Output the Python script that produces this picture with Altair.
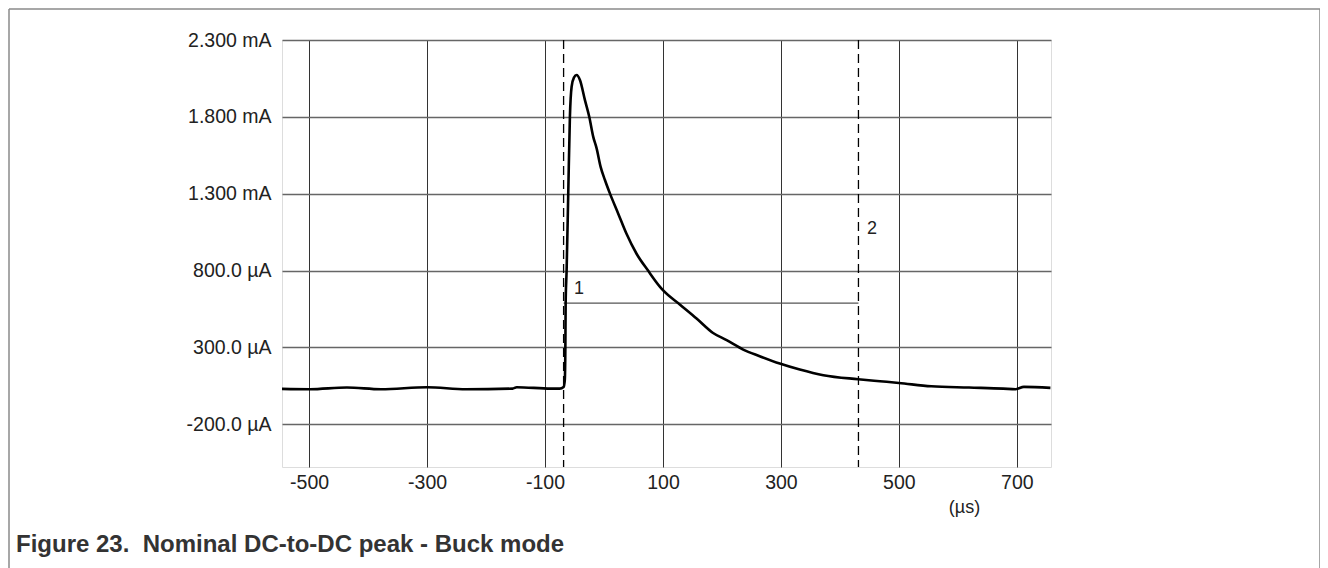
import altair as alt
import pandas as pd

# ---- data ----
time_us = [-546, -499, -436, -378, -300, -234, -155, -148, -90, -75, -68.5, -66.5, -65.5, -65,
           -63.4, -60.6, -57.8, -54.9, -51, -46.4, -40.8, -32.3, -25, -18.2, -12.5, -5.7, 1.6,
           10, 24, 38, 55, 75, 95, 100, 129, 157, 185, 208, 236, 264, 298, 332, 372, 431,
           468, 500, 555, 619, 677, 698, 712, 757]
current_ua = [30, 28, 39, 28, 41, 28, 32, 41, 32, 32, 43, 86, 300, 590,
              797, 1302, 1800, 1996, 2055, 2072, 2040, 1909, 1801, 1670, 1595, 1475, 1389,
              1302, 1172, 1041, 911, 798, 694, 672, 578, 488, 394, 347, 286, 243, 195, 156, 119, 93,
              80, 69, 47, 39, 32, 28, 43, 37]

cursor_times = [-68.5, 431.5]
cursor_labels = ["1", "2"]
cursor_label_x = [-51, 446]
cursor_label_y = [679, 1070]
delta_level = 588

x_ticks = [-500, -300, -100, 100, 300, 500, 700]
y_ticks = [-200, 300, 800, 1300, 1800, 2300]
y_tick_labels = ["-200.0 µA", "300.0 µA", "800.0 µA", "1.300 mA", "1.800 mA", "2.300 mA"]
x_domain = [-546, 758]
y_domain = [-478, 2300]
x_unit = "(µs)"
caption = "Figure 23.\u00a0 Nominal DC-to-DC peak - Buck mode"

FONT = "Liberation Sans"

curve_df = pd.DataFrame({"t": time_us, "i": current_ua})
cursor_df = pd.DataFrame({"t": cursor_times})
label_df = pd.DataFrame({"t": cursor_label_x, "i": cursor_label_y, "txt": cursor_labels})
delta_df = pd.DataFrame({"t": [cursor_times[0]], "t2": [cursor_times[1]], "i": [delta_level]})
caption_df = pd.DataFrame({"txt": [caption]})

label_expr = ""
for v, s in zip(y_ticks, y_tick_labels):
    label_expr += f"datum.value == {v} ? '{s}' : "
label_expr += "''"

xscale = alt.Scale(domain=x_domain, nice=False, zero=False)
yscale = alt.Scale(domain=y_domain, nice=False, zero=False)

x_axis = alt.Axis(values=x_ticks, labelExpr="'' + datum.value", grid=True, gridColor="#333",
                  gridWidth=1, ticks=False, domain=False, labelFont=FONT, labelFontSize=19.5,
                  labelColor="#222", labelPadding=6, title=x_unit, titleFont=FONT,
                  titleFontSize=18, titleFontWeight="normal", titleColor="#222",
                  titleX=682, titleY=40, titleBaseline="middle", titleAlign="center")
y_axis = alt.Axis(values=y_ticks, labelExpr=label_expr, grid=True, gridColor="#666",
                  gridWidth=1.4, ticks=False, domain=False, labelFont=FONT,
                  labelFontSize=19.5, labelColor="#222", labelPadding=11, title=None)

curve = alt.Chart(curve_df).mark_line(color="black", strokeWidth=2.6,
                                      interpolate="monotone").encode(
    x=alt.X("t:Q", scale=xscale, axis=x_axis),
    y=alt.Y("i:Q", scale=yscale, axis=y_axis),
)

cursors = alt.Chart(cursor_df).mark_rule(color="black", strokeWidth=1.3,
                                         strokeDash=[9, 5]).encode(
    x=alt.X("t:Q", scale=xscale)
)

delta = alt.Chart(delta_df).mark_rule(color="#555", strokeWidth=1.2).encode(
    x=alt.X("t:Q", scale=xscale), x2="t2:Q", y=alt.Y("i:Q", scale=yscale)
)

labels = alt.Chart(label_df).mark_text(font=FONT, fontSize=18, color="#222",
                                       align="left", baseline="middle").encode(
    x=alt.X("t:Q", scale=xscale), y=alt.Y("i:Q", scale=yscale), text="txt:N"
)

caption_mark = alt.Chart(caption_df).mark_text(font=FONT, fontSize=24, fontWeight="bold",
                                               color="#333", align="left",
                                               baseline="alphabetic").encode(
    x=alt.value(-266), y=alt.value(512), text="txt:N"
)

# figure frame (top, left, right edges)
frame_top = alt.Chart(pd.DataFrame({"a": [0]})).mark_rule(color="#8a8a8a", strokeWidth=1.5).encode(
    x=alt.value(-273), x2=alt.value(1038), y=alt.value(-31)
)
frame_left = alt.Chart(pd.DataFrame({"a": [0]})).mark_rule(color="#8a8a8a", strokeWidth=1.5).encode(
    x=alt.value(-273), y=alt.value(-31), y2=alt.value(528)
)
frame_right = alt.Chart(pd.DataFrame({"a": [0]})).mark_rule(color="#8a8a8a", strokeWidth=1.5).encode(
    x=alt.value(1038), y=alt.value(-31), y2=alt.value(528)
)

chart = alt.layer(frame_top, frame_left, frame_right, delta, cursors, curve, labels,
                  caption_mark).properties(
    width=769,
    height=427,
    autosize=alt.AutoSizeParams(type="none"),
    padding={"left": 274, "top": 32, "right": 269, "bottom": 101},
).configure_view(stroke="#777", strokeWidth=2).configure(background="white")

chart.save("out.html", embed_options={"renderer": "svg", "actions": False})
